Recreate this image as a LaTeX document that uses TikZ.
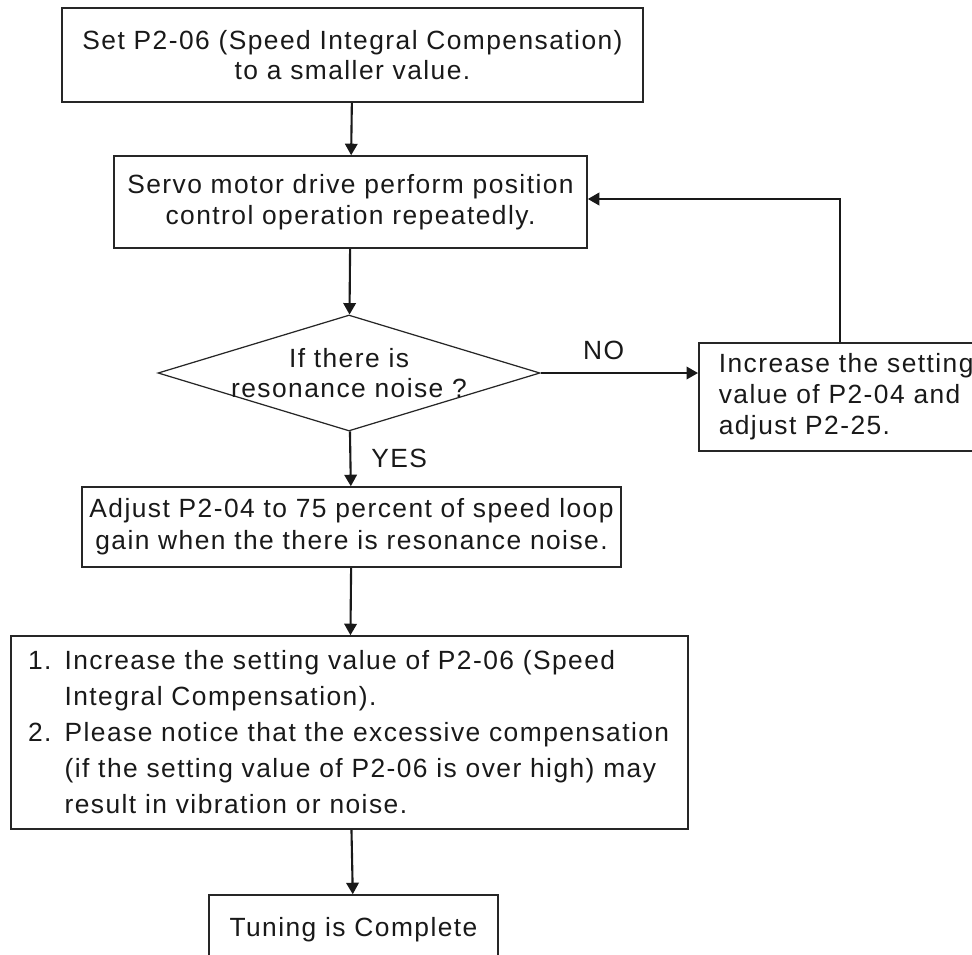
\documentclass[tikz,border=0pt]{standalone}
\usepackage{fontspec}
\setmainfont{Liberation Sans}[LetterSpace=5.5]
\usetikzlibrary{positioning, shapes.geometric, arrows.meta}

\begin{document}
\begin{tikzpicture}[
        box/.style={rectangle, draw=black!85, line width=0.9pt, align=center, inner sep=0pt, text=black!90, font=\fontsize{15}{17.5}\selectfont},
        decision/.style={diamond, draw=black!85, line width=0.7pt, aspect=3.3, inner sep=0pt, inner xsep=-0.6cm, align=center, text=black!90, font=\fontsize{15}{17.5}\selectfont},
        arrow/.style={-{Triangle[length=2.3mm, width=2.5mm]}, line width=1.2pt, black!90},
        lbl/.style={text=black!90, font=\fontsize{15}{17}\selectfont}
    ]
    \useasboundingbox[fill=white] (0,0) rectangle (19.44,-19.08);

    % main column
    \node[box, minimum width=11.62cm, minimum height=1.88cm] (set) at (7.05,-1.10) {Set P2-06 (Speed Integral Compensation)\\to a smaller value.};
    \node[box, minimum width=9.46cm, minimum height=1.84cm] (servo) at (7.01,-4.04) {Servo motor drive perform position\\control operation repeatedly.};
    \node[decision, minimum width=7.64cm, minimum height=2.32cm] (noise) at (6.98,-7.46) {If there is\\resonance noise ?};
    \node[box, minimum width=10.78cm, minimum height=1.6cm, font=\fontsize{15}{18.2}\selectfont] (adjust) at (7.03,-10.54) {Adjust P2-04 to 75 percent of speed loop\\gain when the there is resonance noise.};
    \node[box, minimum width=13.54cm, minimum height=3.86cm, text width=12.86cm, align=left, font=\fontsize{15}{20.5}\selectfont] (raise) at (6.99,-14.65) {1. Increase the setting value of P2-06 (Speed\\\phantom{1. }Integral Compensation).\\2. Please notice that the excessive compensation\\\phantom{2. }(if the setting value of P2-06 is over high) may\\\phantom{2. }result in vibration or noise.};
    \node[box, minimum width=5.78cm, minimum height=1.4cm] (done) at (7.07,-18.60) {Tuning is Complete};

    % side branch
    \node[box, anchor=west, minimum width=6.6cm, minimum height=2.16cm, text width=5.8cm, align=left, inner xsep=0.4cm, font=\fontsize{15}{17.6}\selectfont] (gain) at (13.96,-7.94) {Increase the setting\\value of P2-04 and\\adjust P2-25.};
    \coordinate (turn) at (16.80,-3.98);

    \draw[arrow] (set) -- (servo);
    \draw[arrow] (servo) -- (noise);
    \draw[arrow] (noise) -- node[lbl, right=0.28cm] {YES} (adjust);
    \draw[arrow] (adjust) -- (raise);
    \draw[arrow] (raise) -- (done);
    \draw[arrow] (noise.east) -- node[lbl, above=0.12cm, pos=0.4] {NO} (noise.east -| gain.west);
    \draw[arrow] (turn |- gain.north) -- (turn) -- (servo.east |- turn);
\end{tikzpicture}
\end{document}
